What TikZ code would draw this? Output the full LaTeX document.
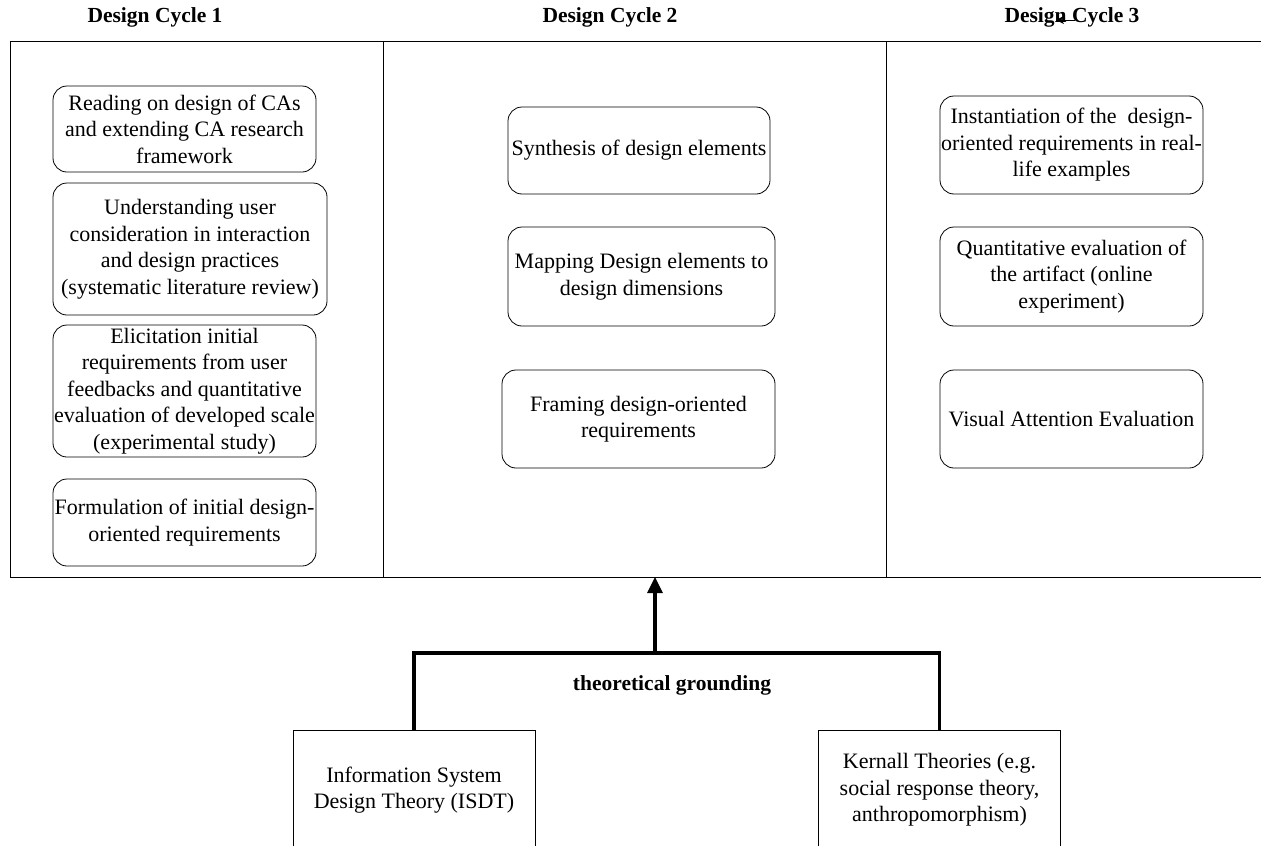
\documentclass[tikz,border=0pt]{standalone}
\usepackage{fontspec}
\setmainfont{Liberation Serif}
\usetikzlibrary{arrows.meta}
\begin{document}
\begin{tikzpicture}[x=1pt,y=-1pt,
  every node/.style={font=\fontsize{22}{26.5}\selectfont, align=center, inner sep=0pt},
  stagebox/.style={draw, line width=0.8pt, rounded corners=14pt},
  theorybox/.style={draw, line width=0.8pt, minimum width=242pt, minimum height=120pt},
  header/.style={font=\bfseries\fontsize{21.5}{25}\selectfont},
  frameline/.style={line width=0.9pt},
  grounding/.style={line width=3.2pt},
]
\useasboundingbox (0,0) rectangle (1261,846);
\clip (0,0) rectangle (1261,846);

% column headings
\node[header] (h1) at (155,17) {Design Cycle 1};
\node[header] (h2) at (610,17) {Design Cycle 2};
\node[header] (h3) at (1072,17) {Design Cycle 3};
\coordinate (slipA) at (1075,20);
\coordinate (slipB) at (1056,20);
\draw[line width=1pt, -{Stealth[length=8pt,width=8pt]}] (slipA) -- (slipB);

% frame and column dividers
\coordinate (ftl) at (10,41);
\coordinate (fbr) at (1263,577);
\draw[frameline] (ftl) rectangle (fbr);
\coordinate (d1t) at (383,41);  \coordinate (d1b) at (383,577);
\coordinate (d2t) at (886,41);  \coordinate (d2b) at (886,577);
\draw[frameline] (d1t) -- (d1b);
\draw[frameline] (d2t) -- (d2b);

% Design Cycle 1
\node[stagebox, minimum width=263pt, minimum height=86pt] (c11) at (184.5,129)
  {Reading on design of CAs\\and extending CA research\\framework};
\node[stagebox, minimum width=274pt, minimum height=132pt] (c12) at (190,249)
  {Understanding user\\consideration in interaction\\and design practices\\(systematic literature review)};
\node[stagebox, minimum width=263pt, minimum height=132pt] (c13) at (184.5,391)
  {Elicitation initial\\requirements from user\\feedbacks and quantitative\\evaluation of developed scale\\(experimental study)};
\node[stagebox, minimum width=263pt, minimum height=87pt] (c14) at (184.5,522.5)
  {Formulation of initial design-\\oriented requirements};

% Design Cycle 2
\node[stagebox, minimum width=262pt, minimum height=87pt] (c21) at (639,150.5)
  {Synthesis of design elements};
\node[stagebox, minimum width=267pt, minimum height=99pt] (c22) at (641.5,276.5)
  {Mapping Design elements to\\design dimensions};
\node[stagebox, minimum width=273pt, minimum height=98pt] (c23) at (638.5,419)
  {Framing design-oriented\\requirements};

% Design Cycle 3
\node[stagebox, minimum width=263pt, minimum height=98pt] (c31) at (1071.5,145)
  {Instantiation of the\ \ design-\\oriented requirements in real-\\life examples};
\node[stagebox, minimum width=263pt, minimum height=99pt] (c32) at (1071.5,276.5)
  {Quantitative evaluation of\\the artifact (online\\experiment)};
\node[stagebox, minimum width=263pt, minimum height=98pt] (c33) at (1071.5,419)
  {Visual Attention Evaluation};

% theoretical grounding
\node[theorybox] (isdt) at (414,790)
  {Information System\\Design Theory (ISDT)};
\node[theorybox] (kern) at (939.5,790)
  {Kernall Theories (e.g.\\social response theory,\\anthropomorphism)};
\node[font=\bfseries\fontsize{21.5}{25}\selectfont] (tg) at (672,685) {theoretical grounding};

\coordinate (bl) at (414,653);
\coordinate (br) at (939.5,653);
\coordinate (bm) at (655,653);
\coordinate (fm) at (655,577);
\draw[grounding] (isdt.north) -- (bl) -- (br) -- (kern.north);
\draw[grounding, -{Triangle[length=16pt,width=15pt]}] (bm) -- (fm);
\end{tikzpicture}
\end{document}
